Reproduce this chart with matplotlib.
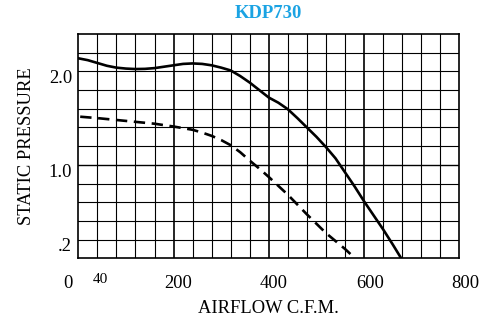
import matplotlib
matplotlib.use("Agg")
import matplotlib.pyplot as plt
import matplotlib.transforms as mtransforms
import numpy as np

plt.rcParams['font.family'] = ['Liberation Serif', 'DejaVu Serif']

title = "KDP730"
x_label = "AIRFLOW C.F.M."
y_label = "STATIC PRESSURE"

# solid curve (cfm, static pressure)
solid_cfm = [0, 20, 40, 60, 80, 100, 120, 140, 160, 180, 200, 220, 240, 260, 280, 300, 320, 340,
             360, 380, 400, 420, 440, 460, 480, 500, 520, 540, 560, 580, 600, 620, 640, 660, 678]
solid_sp = [2.14, 2.12, 2.09, 2.06, 2.04, 2.03, 2.025, 2.027, 2.035, 2.05, 2.065, 2.08, 2.085, 2.08,
            2.065, 2.04, 2.01, 1.95, 1.88, 1.80, 1.72, 1.665, 1.595, 1.50, 1.40, 1.30, 1.19, 1.07, 0.92,
            0.77, 0.61, 0.46, 0.31, 0.15, 0.0]

# dashed curve
dash_cfm = [4, 40, 80, 120, 160, 200, 240, 260, 280, 300, 320, 340, 360, 380, 400, 440, 480, 520, 560, 581]
dash_sp = [1.515, 1.50, 1.48, 1.46, 1.44, 1.41, 1.375, 1.345, 1.31, 1.265, 1.21, 1.135, 1.045, 0.96,
           0.87, 0.68, 0.47, 0.27, 0.10, 0.0]

x_ticks = [0, 40, 200, 400, 600, 800]
x_tick_labels = ["0", "40", "200", "400", "600", "800"]
y_ticks = [0.2, 1.0, 2.0]
y_tick_labels = [".2", "1.0", "2.0"]

fig = plt.figure(figsize=(4.95, 3.16), dpi=100)
ax = fig.add_axes([78.3 / 495, 1 - 258.3 / 316, 381 / 495, 224.3 / 316])

ax.set_xlim(0, 800)
ax.set_ylim(0, 2.4)

# grid
for gx in np.arange(40, 800, 40):
    lw = 1.2 if gx % 200 == 0 else 0.8
    ax.axvline(gx, color="black", lw=lw, zorder=1)
for gy in np.arange(0.2, 2.4, 0.2):
    lw = 1.0 if abs(gy - 1.0) < 1e-6 else 0.8
    ax.axhline(gy, color="black", lw=lw, zorder=1)

ax.plot(solid_cfm, solid_sp, color="black", lw=1.9, zorder=3)
ax.plot(dash_cfm, dash_sp, color="black", lw=1.9, dashes=(4.3, 2.5), zorder=3)

for s in ax.spines.values():
    s.set_linewidth(1.2)

ax.set_xticks(x_ticks)
ax.set_xticklabels(x_tick_labels)
ax.set_yticks(y_ticks)
ax.set_yticklabels(y_tick_labels)
ax.tick_params(length=0, labelsize=13.3)
ax.tick_params(axis="x", pad=12)
ax.tick_params(axis="y", pad=4.5)

# nudge labels like the original print
x_offsets = [-7.6, 2.4, 3.0, 3.7, 4.3, 4.6]
for lab, dx in zip(ax.get_xticklabels(), x_offsets):
    lab.set_transform(lab.get_transform() + mtransforms.ScaledTranslation(dx / 72, 0, fig.dpi_scale_trans))
lab40 = ax.get_xticklabels()[1]
lab40.set_fontsize(11)
lab40.set_transform(lab40.get_transform() + mtransforms.ScaledTranslation(0, 1.5 / 72, fig.dpi_scale_trans))
for lab in ax.get_yticklabels():
    lab.set_transform(lab.get_transform() + mtransforms.ScaledTranslation(0, -3.8 / 72, fig.dpi_scale_trans))

ax.set_title(title, color="#1BA3E3", fontweight="bold", fontsize=13.4, pad=11.5)
ax.set_xlabel(x_label, fontsize=13.3, labelpad=5.5)
ax.set_ylabel(y_label, fontsize=13.3, labelpad=10)

fig.savefig("out.png", dpi=100)
